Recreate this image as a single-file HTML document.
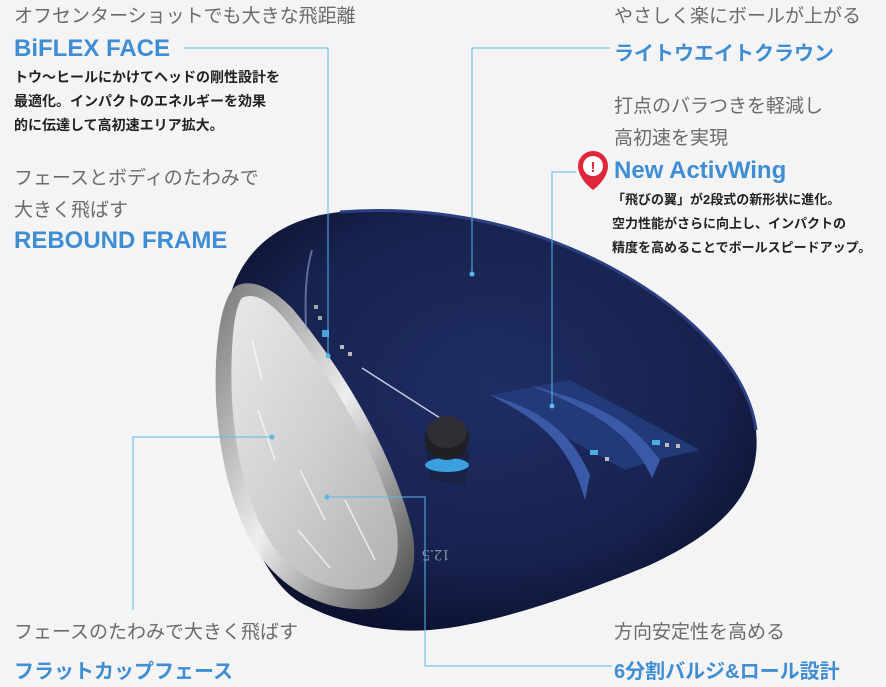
<!DOCTYPE html>
<html><head><meta charset="utf-8"><style>
html,body{margin:0;padding:0;background:#f4f4f4;}
body{width:886px;height:687px;position:relative;overflow:hidden;font-family:"Liberation Sans","Noto Sans CJK JP",sans-serif;}
.t{position:absolute;white-space:nowrap;}
.g{color:#6b6b6b;font-size:19px;line-height:32px;}
.b{color:#3f8dd2;font-weight:bold;font-size:24px;}
.j{color:#3f8dd2;font-weight:bold;font-size:20px;}
.k{color:#222;font-weight:bold;font-size:14px;line-height:24px;}
svg{position:absolute;left:0;top:0;}
</style></head><body>
<svg width="886" height="687" viewBox="0 0 886 687">
<defs>
<radialGradient id="bd" cx="0.5" cy="0.42" r="0.6">
<stop offset="0" stop-color="#1f2d63"/><stop offset="0.7" stop-color="#17224f"/><stop offset="1" stop-color="#0c1230"/></radialGradient>
<linearGradient id="fc" x1="0" y1="0" x2="1" y2="1">
<stop offset="0" stop-color="#e8e8e8"/><stop offset="0.5" stop-color="#d0d0d0"/><stop offset="1" stop-color="#b0b0b0"/></linearGradient>
<linearGradient id="rim" x1="0" y1="0" x2="1" y2="1">
<stop offset="0" stop-color="#777"/><stop offset="0.5" stop-color="#eee"/><stop offset="1" stop-color="#444"/></linearGradient>
</defs>
<path d="M232,290 C245,250 280,218 340,212 C430,205 520,222 600,262 C690,308 748,370 756,430 C762,490 725,530 650,565 C570,598 490,625 430,630 C385,633 345,625 305,605 C265,585 240,520 228,440 C220,370 220,320 232,290Z" fill="url(#bd)"/>
<path d="M340,212 C430,205 520,222 600,262 C690,308 748,370 756,430" fill="none" stroke="#2c3f80" stroke-width="3"/>
<path d="M236,286 C252,278 272,288 292,308 C342,368 392,450 412,530 C420,572 406,602 380,608 C340,614 298,600 268,566 C238,530 220,470 216,400 C214,350 220,298 236,286Z" fill="url(#rim)"/>
<path d="M242,298 C254,292 268,300 284,318 C330,375 378,452 396,525 C402,560 392,583 372,588 C338,594 304,582 280,555 C252,522 236,465 232,400 C230,355 233,308 242,298Z" fill="url(#fc)"/>
<g stroke="#fff" stroke-width="1.5" opacity="0.7">
<line x1="252" y1="340" x2="262" y2="380"/><line x1="258" y1="410" x2="275" y2="460"/><line x1="300" y1="470" x2="325" y2="520"/><line x1="298" y1="530" x2="330" y2="568"/><line x1="345" y1="500" x2="375" y2="560"/>
</g>
<path d="M312,250 C305,275 305,300 306,330" stroke="#8ea0c8" stroke-width="2" fill="none" opacity="0.6"/>
<rect x="322" y="330" width="7" height="7" fill="#4aa3d9"/>
<rect x="314" y="305" width="4" height="4" fill="#9aa"/><rect x="318" y="316" width="4" height="4" fill="#9aa"/>
<rect x="340" y="345" width="4" height="4" fill="#bbb"/><rect x="348" y="352" width="4" height="4" fill="#bbb"/>
<line x1="362" y1="368" x2="440" y2="418" stroke="#c0c8e0" stroke-width="1.5"/>
<path d="M490,395 L570,380 L700,450 L655,460 L625,470 Z" fill="#223a78"/>
<path d="M490,395 C540,420 570,445 585,500 L590,475 C570,430 540,410 490,395Z" fill="#3a5aa8"/>
<path d="M530,385 C590,410 630,430 652,478 L660,460 C630,420 600,405 530,385Z" fill="#3a5aa8"/>
<rect x="590" y="450" width="8" height="5" fill="#4ab0e0"/><rect x="652" y="440" width="8" height="5" fill="#4ab0e0"/>
<rect x="605" y="457" width="4" height="4" fill="#bbb"/><rect x="665" y="443" width="4" height="4" fill="#bbb"/><rect x="676" y="444" width="4" height="4" fill="#bbb"/>
<path d="M425,445 L430,480 L465,485 L470,450Z" fill="#1a2244"/>
<ellipse cx="447" cy="465" rx="22" ry="7" fill="#3aa0e0"/>
<ellipse cx="447" cy="438" rx="22" ry="22" fill="#1f1f24"/>
<ellipse cx="447" cy="432" rx="20" ry="16" fill="#2e2e34"/>
<text x="450" y="560" font-family="Liberation Serif" font-size="16" fill="#8a90a8" transform="rotate(180 450 555)">12.5</text>
<g stroke="#5bb8ea" stroke-width="1" fill="none">
<polyline points="184,48 328,48 328,356"/>
<polyline points="610,48 472,48 472,274"/>
<polyline points="576,172 552,172 552,406"/>
<polyline points="133,610 133,437 272,437"/>
<polyline points="327,497 425,497 425,666 612,666"/>
</g>
<g fill="#5bb8ea"><circle cx="328" cy="356" r="2.5"/><circle cx="472" cy="274" r="2.5"/><circle cx="552" cy="406" r="2.5"/><circle cx="272" cy="437" r="2.5"/><circle cx="327" cy="497" r="2.5"/></g>
<path d="M593,190 C580,180 578,170 578,166 A15,15 0 1 1 608,166 C608,170 606,180 593,190Z" fill="#e0263a"/>
<circle cx="593" cy="166" r="10" fill="#fff"/>
<text x="593" y="172" text-anchor="middle" font-family="Liberation Sans" font-weight="bold" font-size="15" fill="#e0263a">!</text>
</svg>
<div class="t g" style="left:14px;top:1px">オフセンターショットでも大きな飛距離</div>
<div class="t b" style="left:14px;top:35px">BiFLEX FACE</div>
<div class="t k" style="left:14px;top:65px">トウ〜ヒールにかけてヘッドの剛性設計を<br>最適化。インパクトのエネルギーを効果<br>的に伝達して高初速エリア拡大。</div>
<div class="t g" style="left:14px;top:163px">フェースとボディのたわみで<br>大きく飛ばす</div>
<div class="t b" style="left:14px;top:227px">REBOUND FRAME</div>
<div class="t g" style="left:614px;top:1px">やさしく楽にボールが上がる</div>
<div class="t j" style="left:614px;top:37px">ライトウエイトクラウン</div>
<div class="t g" style="left:614px;top:91px">打点のバラつきを軽減し<br>高初速を実現</div>
<div class="t b" style="left:614px;top:157px">New ActivWing</div>
<div class="t k" style="left:612px;top:188px;font-size:13px">「飛びの翼」が2段式の新形状に進化。<br>空力性能がさらに向上し、インパクトの<br>精度を高めることでボールスピードアップ。</div>
<div class="t g" style="left:14px;top:617px">フェースのたわみで大きく飛ばす</div>
<div class="t j" style="left:14px;top:655px">フラットカップフェース</div>
<div class="t g" style="left:614px;top:617px">方向安定性を高める</div>
<div class="t j" style="left:614px;top:655px">6分割バルジ&amp;ロール設計</div>
</body></html>
